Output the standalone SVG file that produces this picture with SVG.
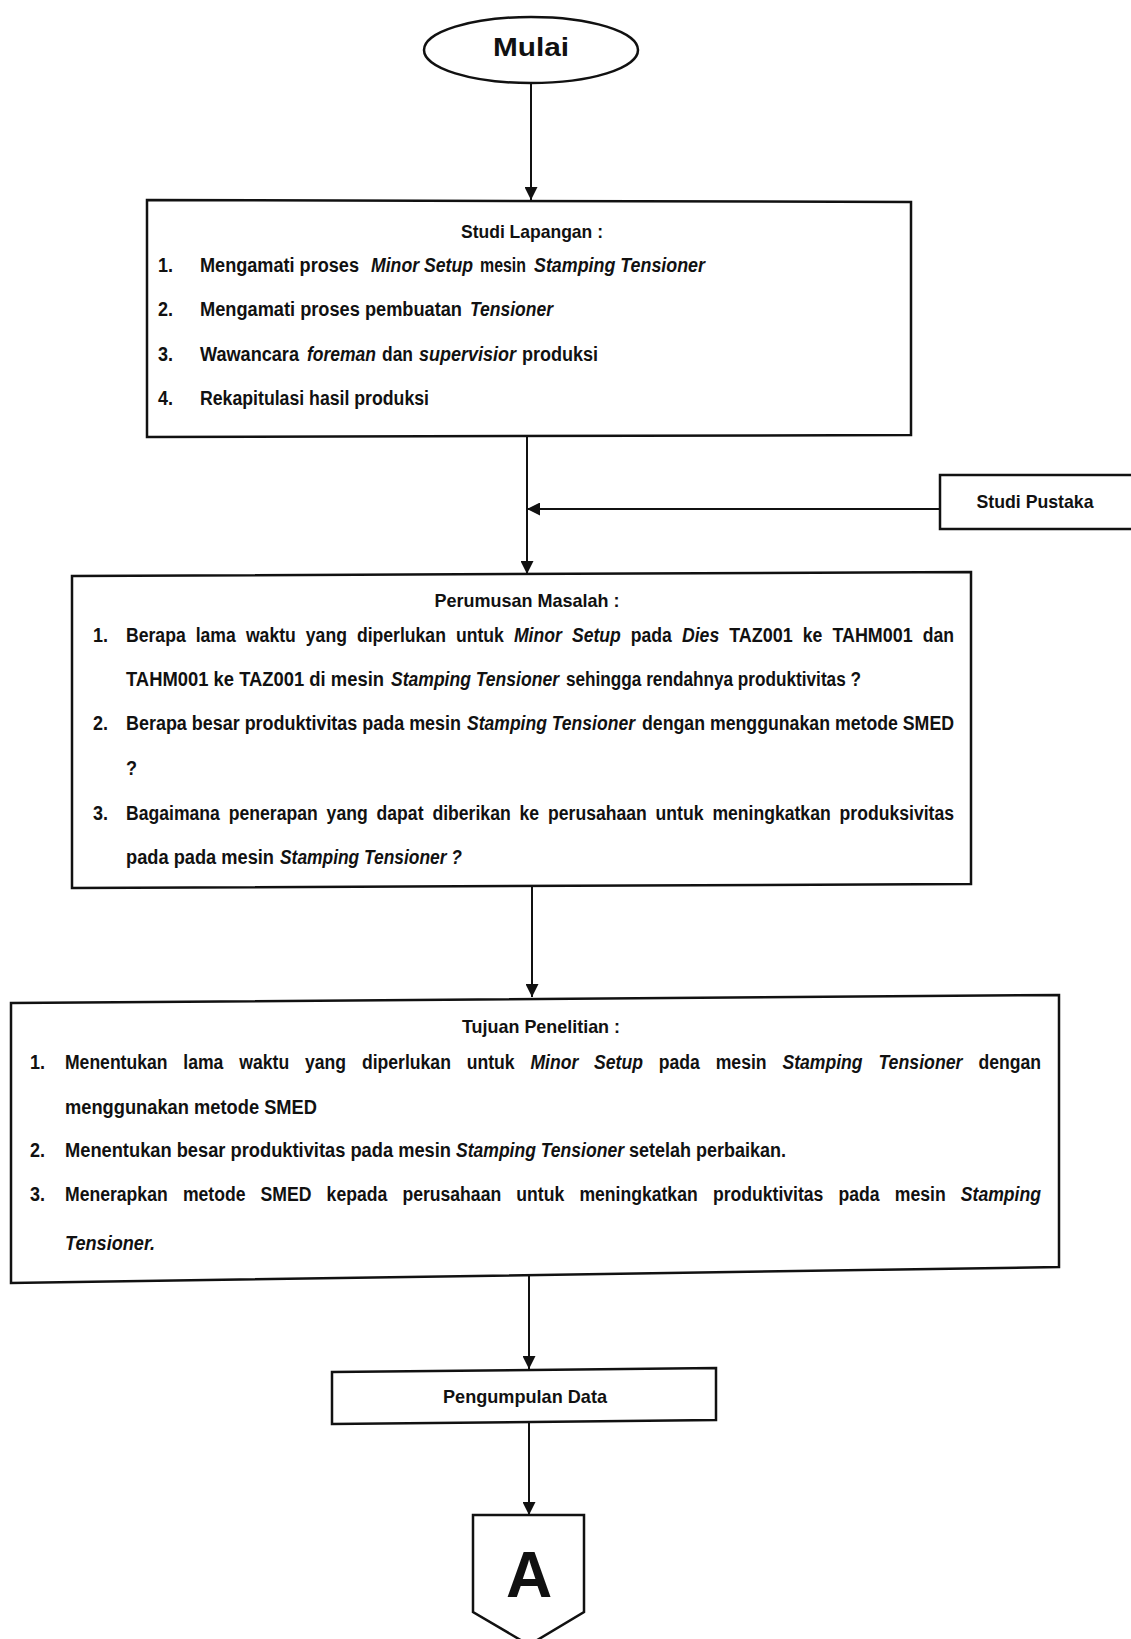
<svg xmlns="http://www.w3.org/2000/svg" width="1131" height="1639" viewBox="0 0 1131 1639">
<style>
.box{fill:#fff;stroke:#111;stroke-width:2.5}
.con{fill:none;stroke:#111;stroke-width:2}
.t{font-family:"Liberation Sans",Arial,sans-serif;font-size:18px;font-weight:bold;fill:#111}
.i{font-style:italic}
.h{font-family:"Liberation Sans",Arial,sans-serif;font-size:19px;font-weight:bold;fill:#111;text-anchor:middle}
</style>
<defs>
<marker id="arr" viewBox="0 0 10 10" refX="10" refY="5" markerWidth="13" markerHeight="13" markerUnits="userSpaceOnUse" orient="auto">
<path d="M0,0 L10,5 L0,10 z" fill="#111"/>
</marker>
</defs>
<rect width="1131" height="1639" fill="#fff"/>

<g id="connectors">
<path class="con" d="M531,83 L531,200" marker-end="url(#arr)"/>
<path class="con" d="M527,436 L527,574" marker-end="url(#arr)"/>
<path class="con" d="M940,509 L527,509" marker-end="url(#arr)"/>
<path class="con" d="M532,886 L532,997" marker-end="url(#arr)"/>
<path class="con" d="M529,1276 L529,1369" marker-end="url(#arr)"/>
<path class="con" d="M529,1422 L529,1515" marker-end="url(#arr)"/>
</g>

<g id="mulai">
<ellipse class="box" cx="531" cy="50" rx="107" ry="33"/>
<text x="531" y="56" text-anchor="middle" font-family="Liberation Sans,Arial,sans-serif" font-size="25" font-weight="bold" fill="#111" textLength="76" lengthAdjust="spacingAndGlyphs">Mulai</text>
</g>

<g id="studi-lapangan">
<polygon class="box" points="147,200 911,202 911,435 147,437"/>
<text class="h" x="532" y="238" textLength="142" lengthAdjust="spacingAndGlyphs">Studi Lapangan :</text>
<g transform="translate(0,272) scale(1,1.1)">
<text class="t" x="158" y="0">1.</text>
<text class="t" x="200" y="0" textLength="159" lengthAdjust="spacingAndGlyphs">Mengamati proses</text>
<text class="t i" x="371" y="0" textLength="102" lengthAdjust="spacingAndGlyphs">Minor Setup</text>
<text class="t" x="480" y="0" textLength="46" lengthAdjust="spacingAndGlyphs">mesin</text>
<text class="t i" x="534" y="0" textLength="171" lengthAdjust="spacingAndGlyphs">Stamping Tensioner</text>
</g>
<g transform="translate(0,316) scale(1,1.1)">
<text class="t" x="158" y="0">2.</text>
<text class="t" x="200" y="0" textLength="262" lengthAdjust="spacingAndGlyphs">Mengamati proses pembuatan</text>
<text class="t i" x="470" y="0" textLength="83" lengthAdjust="spacingAndGlyphs">Tensioner</text>
</g>
<g transform="translate(0,361) scale(1,1.1)">
<text class="t" x="158" y="0">3.</text>
<text class="t" x="200" y="0" textLength="99" lengthAdjust="spacingAndGlyphs">Wawancara</text>
<text class="t i" x="307" y="0" textLength="69" lengthAdjust="spacingAndGlyphs">foreman</text>
<text class="t" x="382" y="0" textLength="31" lengthAdjust="spacingAndGlyphs">dan</text>
<text class="t i" x="419" y="0" textLength="97" lengthAdjust="spacingAndGlyphs">supervisior</text>
<text class="t" x="522" y="0" textLength="76" lengthAdjust="spacingAndGlyphs">produksi</text>
</g>
<g transform="translate(0,405) scale(1,1.1)">
<text class="t" x="158" y="0">4.</text>
<text class="t" x="200" y="0" textLength="229" lengthAdjust="spacingAndGlyphs">Rekapitulasi hasil produksi</text>
</g>
</g>

<g id="studi-pustaka">
<polygon class="box" points="940,475 1135,475 1135,529 940,529"/>
<text class="h" x="1035" y="508" textLength="117" lengthAdjust="spacingAndGlyphs">Studi Pustaka</text>
</g>

<g id="perumusan-masalah">
<polygon class="box" points="72,576 971,572 971,884 72,888"/>
<text class="h" x="527" y="607" textLength="185" lengthAdjust="spacingAndGlyphs">Perumusan Masalah :</text>
<g transform="translate(0,642) scale(1,1.1)">
<text class="t" x="93" y="0">1.</text>
<text class="t" x="126" y="0" textLength="59.7" lengthAdjust="spacingAndGlyphs">Berapa</text>
<text class="t" x="195.7" y="0" textLength="40.1" lengthAdjust="spacingAndGlyphs">lama</text>
<text class="t" x="245.9" y="0" textLength="49.9" lengthAdjust="spacingAndGlyphs">waktu</text>
<text class="t" x="305.8" y="0" textLength="41.1" lengthAdjust="spacingAndGlyphs">yang</text>
<text class="t" x="356.9" y="0" textLength="89" lengthAdjust="spacingAndGlyphs">diperlukan</text>
<text class="t" x="456" y="0" textLength="47.9" lengthAdjust="spacingAndGlyphs">untuk</text>
<text class="t i" x="513.9" y="0" textLength="47.9" lengthAdjust="spacingAndGlyphs">Minor</text>
<text class="t i" x="571.9" y="0" textLength="48.9" lengthAdjust="spacingAndGlyphs">Setup</text>
<text class="t" x="630.8" y="0" textLength="41.1" lengthAdjust="spacingAndGlyphs">pada</text>
<text class="t i" x="682" y="0" textLength="37.2" lengthAdjust="spacingAndGlyphs">Dies</text>
<text class="t" x="729.2" y="0" textLength="63.6" lengthAdjust="spacingAndGlyphs">TAZ001</text>
<text class="t" x="802.8" y="0" textLength="19.6" lengthAdjust="spacingAndGlyphs">ke</text>
<text class="t" x="832.4" y="0" textLength="80.2" lengthAdjust="spacingAndGlyphs">TAHM001</text>
<text class="t" x="922.7" y="0" textLength="31.3" lengthAdjust="spacingAndGlyphs">dan</text>
</g>
<g transform="translate(0,686) scale(1,1.1)">
<text class="t" x="126" y="0" textLength="258" lengthAdjust="spacingAndGlyphs">TAHM001 ke TAZ001 di mesin</text>
<text class="t i" x="391" y="0" textLength="168" lengthAdjust="spacingAndGlyphs">Stamping Tensioner</text>
<text class="t" x="566" y="0" textLength="295" lengthAdjust="spacingAndGlyphs">sehingga rendahnya produktivitas ?</text>
</g>
<g transform="translate(0,730) scale(1,1.1)">
<text class="t" x="93" y="0">2.</text>
<text class="t" x="126" y="0" textLength="335" lengthAdjust="spacingAndGlyphs">Berapa besar produktivitas pada mesin</text>
<text class="t i" x="467" y="0" textLength="168" lengthAdjust="spacingAndGlyphs">Stamping Tensioner</text>
<text class="t" x="642" y="0" textLength="312" lengthAdjust="spacingAndGlyphs">dengan menggunakan metode SMED</text>
</g>
<g transform="translate(0,775) scale(1,1.1)">
<text class="t" x="126" y="0">?</text>
</g>
<g transform="translate(0,820) scale(1,1.1)">
<text class="t" x="93" y="0">3.</text>
<text class="t" x="126" y="0" textLength="93.9" lengthAdjust="spacingAndGlyphs">Bagaimana</text>
<text class="t" x="228.8" y="0" textLength="89" lengthAdjust="spacingAndGlyphs">penerapan</text>
<text class="t" x="326.6" y="0" textLength="41.1" lengthAdjust="spacingAndGlyphs">yang</text>
<text class="t" x="376.6" y="0" textLength="46.9" lengthAdjust="spacingAndGlyphs">dapat</text>
<text class="t" x="432.4" y="0" textLength="78.3" lengthAdjust="spacingAndGlyphs">diberikan</text>
<text class="t" x="519.5" y="0" textLength="19.6" lengthAdjust="spacingAndGlyphs">ke</text>
<text class="t" x="548" y="0" textLength="98.8" lengthAdjust="spacingAndGlyphs">perusahaan</text>
<text class="t" x="655.6" y="0" textLength="47.9" lengthAdjust="spacingAndGlyphs">untuk</text>
<text class="t" x="712.4" y="0" textLength="118.3" lengthAdjust="spacingAndGlyphs">meningkatkan</text>
<text class="t" x="839.6" y="0" textLength="114.4" lengthAdjust="spacingAndGlyphs">produksivitas</text>
</g>
<g transform="translate(0,864) scale(1,1.1)">
<text class="t" x="126" y="0" textLength="148" lengthAdjust="spacingAndGlyphs">pada pada mesin</text>
<text class="t i" x="280" y="0" textLength="182" lengthAdjust="spacingAndGlyphs">Stamping Tensioner ?</text>
</g>
</g>

<g id="tujuan-penelitian">
<polygon class="box" points="11,1003 1059,995 1059,1267 11,1283"/>
<text class="h" x="541" y="1033" textLength="158" lengthAdjust="spacingAndGlyphs">Tujuan Penelitian :</text>
<g transform="translate(0,1069) scale(1,1.1)">
<text class="t" x="30" y="0">1.</text>
<text class="t" x="65" y="0" textLength="102.5" lengthAdjust="spacingAndGlyphs">Menentukan</text>
<text class="t" x="183.3" y="0" textLength="40.1" lengthAdjust="spacingAndGlyphs">lama</text>
<text class="t" x="239.3" y="0" textLength="49.9" lengthAdjust="spacingAndGlyphs">waktu</text>
<text class="t" x="305" y="0" textLength="41.1" lengthAdjust="spacingAndGlyphs">yang</text>
<text class="t" x="361.9" y="0" textLength="89" lengthAdjust="spacingAndGlyphs">diperlukan</text>
<text class="t" x="466.7" y="0" textLength="47.9" lengthAdjust="spacingAndGlyphs">untuk</text>
<text class="t i" x="530.4" y="0" textLength="47.9" lengthAdjust="spacingAndGlyphs">Minor</text>
<text class="t i" x="594.1" y="0" textLength="48.9" lengthAdjust="spacingAndGlyphs">Setup</text>
<text class="t" x="658.8" y="0" textLength="41.1" lengthAdjust="spacingAndGlyphs">pada</text>
<text class="t" x="715.7" y="0" textLength="50.9" lengthAdjust="spacingAndGlyphs">mesin</text>
<text class="t i" x="782.4" y="0" textLength="80.2" lengthAdjust="spacingAndGlyphs">Stamping</text>
<text class="t i" x="878.4" y="0" textLength="84.1" lengthAdjust="spacingAndGlyphs">Tensioner</text>
<text class="t" x="978.4" y="0" textLength="62.6" lengthAdjust="spacingAndGlyphs">dengan</text>
</g>
<g transform="translate(0,1114) scale(1,1.1)">
<text class="t" x="65" y="0" textLength="252" lengthAdjust="spacingAndGlyphs">menggunakan metode SMED</text>
</g>
<g transform="translate(0,1157) scale(1,1.1)">
<text class="t" x="30" y="0">2.</text>
<text class="t" x="65" y="0" textLength="386" lengthAdjust="spacingAndGlyphs">Menentukan besar produktivitas pada mesin</text>
<text class="t i" x="456" y="0" textLength="168" lengthAdjust="spacingAndGlyphs">Stamping Tensioner</text>
<text class="t" x="629" y="0" textLength="157" lengthAdjust="spacingAndGlyphs">setelah perbaikan.</text>
</g>
<g transform="translate(0,1201) scale(1,1.1)">
<text class="t" x="30" y="0">3.</text>
<text class="t" x="65" y="0" textLength="102.7" lengthAdjust="spacingAndGlyphs">Menerapkan</text>
<text class="t" x="182.9" y="0" textLength="62.6" lengthAdjust="spacingAndGlyphs">metode</text>
<text class="t" x="260.6" y="0" textLength="50.9" lengthAdjust="spacingAndGlyphs">SMED</text>
<text class="t" x="326.6" y="0" textLength="60.7" lengthAdjust="spacingAndGlyphs">kepada</text>
<text class="t" x="402.4" y="0" textLength="98.8" lengthAdjust="spacingAndGlyphs">perusahaan</text>
<text class="t" x="516.3" y="0" textLength="47.9" lengthAdjust="spacingAndGlyphs">untuk</text>
<text class="t" x="579.4" y="0" textLength="118.3" lengthAdjust="spacingAndGlyphs">meningkatkan</text>
<text class="t" x="712.9" y="0" textLength="110.5" lengthAdjust="spacingAndGlyphs">produktivitas</text>
<text class="t" x="838.5" y="0" textLength="41.1" lengthAdjust="spacingAndGlyphs">pada</text>
<text class="t" x="894.8" y="0" textLength="50.9" lengthAdjust="spacingAndGlyphs">mesin</text>
<text class="t i" x="960.8" y="0" textLength="80.2" lengthAdjust="spacingAndGlyphs">Stamping</text>
</g>
<g transform="translate(0,1250) scale(1,1.1)">
<text class="t i" x="65" y="0" textLength="90" lengthAdjust="spacingAndGlyphs">Tensioner.</text>
</g>
</g>

<g id="pengumpulan-data">
<polygon class="box" points="332,1372 716,1368 716,1420 332,1424"/>
<text class="h" x="525" y="1403" font-size="18" textLength="164" lengthAdjust="spacingAndGlyphs">Pengumpulan Data</text>
</g>

<g id="connector-a">
<polygon class="box" points="473,1515 584,1515 584,1612 529,1645 473,1612"/>
<text x="529" y="1597" text-anchor="middle" font-family="Liberation Sans,Arial,sans-serif" font-size="64" font-weight="bold" fill="#111">A</text>
</g>
</svg>
